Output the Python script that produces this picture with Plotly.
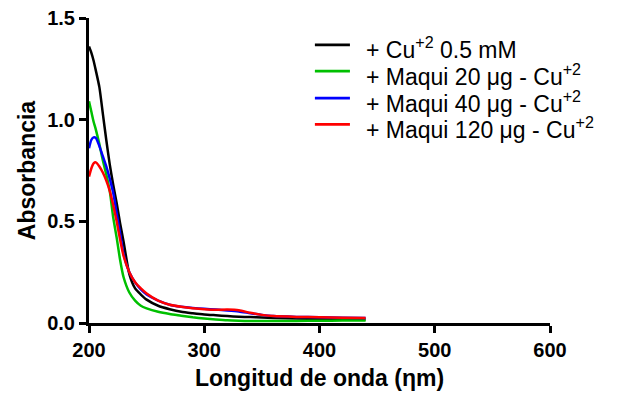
import plotly.graph_objects as go

wavelength = [200, 202, 204, 206, 209, 212, 215, 218, 221, 224, 227, 230, 235, 240, 245, 250,
              260, 270, 280, 290, 300, 310, 320, 330, 340, 350, 360, 380, 400, 420, 440]

cu_05mM = [1.36, 1.33, 1.29, 1.24, 1.16, 1.03, 0.90, 0.78, 0.68, 0.59, 0.49, 0.40, 0.24, 0.17, 0.14, 0.115,
           0.085, 0.068, 0.055, 0.048, 0.042, 0.038, 0.034, 0.031, 0.029, 0.027, 0.025, 0.022, 0.020, 0.018, 0.017]
maqui20 = [1.09, 1.04, 0.99, 0.95, 0.88, 0.80, 0.73, 0.65, 0.52, 0.42, 0.31, 0.225, 0.15, 0.11, 0.085, 0.072,
           0.055, 0.044, 0.036, 0.028, 0.022, 0.017, 0.013, 0.011, 0.010, 0.010, 0.010, 0.010, 0.011, 0.012, 0.012]
maqui40 = [0.86, 0.90, 0.913, 0.91, 0.87, 0.82, 0.77, 0.71, 0.64, 0.54, 0.44, 0.34, 0.25, 0.20, 0.165, 0.14,
           0.11, 0.09, 0.08, 0.074, 0.070, 0.066, 0.062, 0.057, 0.048, 0.040, 0.034, 0.030, 0.028, 0.026, 0.025]
maqui120 = [0.72, 0.76, 0.785, 0.79, 0.77, 0.74, 0.70, 0.65, 0.58, 0.50, 0.41, 0.33, 0.25, 0.20, 0.17, 0.145,
            0.11, 0.09, 0.08, 0.073, 0.068, 0.065, 0.066, 0.063, 0.050, 0.040, 0.034, 0.030, 0.028, 0.026, 0.025]

series_names = ["+ Cu<sup>+2</sup> 0.5 mM",
                "+ Maqui 20 μg - Cu<sup>+2</sup>",
                "+ Maqui 40 μg - Cu<sup>+2</sup>",
                "+ Maqui 120 μg - Cu<sup>+2</sup>"]
series_values = [cu_05mM, maqui20, maqui40, maqui120]
series_colors = ["#000000", "#00c000", "#0000ff", "#ff0000"]

FONT = "Arial, Liberation Sans, sans-serif"

fig = go.Figure()
for name, vals, col in zip(series_names, series_values, series_colors):
    fig.add_trace(go.Scatter(x=wavelength, y=vals, mode="lines", name=name, showlegend=False,
                             line=dict(color=col, width=2.5, shape="spline", smoothing=0.6)))

# Legend drawn as shapes + text annotations (paper coordinates)
leg_y = [0.912, 0.826, 0.737, 0.651]
for name, col, yy in zip(series_names, series_colors, leg_y):
    fig.add_shape(type="line", xref="paper", yref="paper", x0=0.490, x1=0.566, y0=yy, y1=yy,
                  line=dict(color=col, width=2.8))
    fig.add_annotation(xref="paper", yref="paper", x=0.596, y=yy - 0.012, xanchor="left", yanchor="middle",
                       text=name, showarrow=False, font=dict(size=23, family=FONT, color="black"))

fig.update_layout(
    width=623, height=404,
    margin=dict(l=81, r=81, t=10, b=89),
    paper_bgcolor="white", plot_bgcolor="white",
    font=dict(family=FONT, color="black"),
    xaxis=dict(range=[200, 600], tickvals=[200, 300, 400, 500, 600], automargin=False,
               showgrid=False, zeroline=False, showline=True, linecolor="black", linewidth=3,
               ticks="outside", ticklen=7, tickwidth=3, tickcolor="black",
               tickfont=dict(size=20, family=FONT, weight="bold"), ticklabeloverflow="allow",
               title=dict(text="Longitud de onda (ηm)", font=dict(size=23, family=FONT, weight="bold"), standoff=10)),
    yaxis=dict(range=[0, 1.5], tickvals=[0, 0.5, 1.0, 1.5], tickformat=".1f", automargin=False,
               showgrid=False, zeroline=False, showline=True, linecolor="black", linewidth=3,
               ticks="outside", ticklen=7, tickwidth=3, tickcolor="black",
               tickfont=dict(size=20, family=FONT, weight="bold"), ticklabeloverflow="allow",
               title=dict(text="Absorbancia", font=dict(size=23, family=FONT, weight="bold"), standoff=6)),
)

fig.write_html("out.html")
